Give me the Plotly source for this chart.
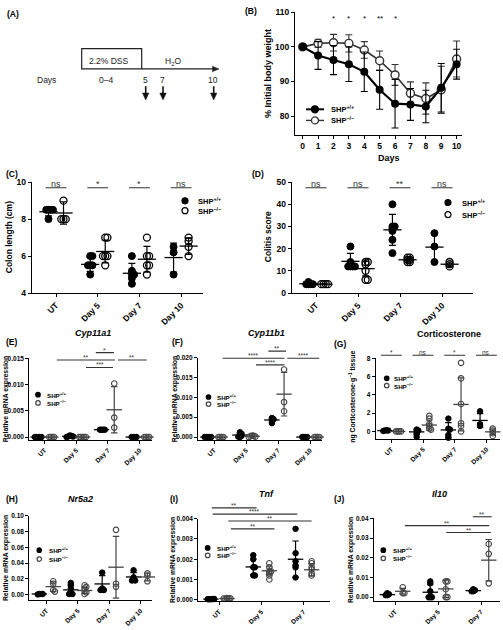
import plotly.graph_objects as go

W, H = 503, 630
FONT = "Liberation Sans"

# ---------------- DATA ----------------
# (B) body weight
B_days = [0, 1, 2, 3, 4, 5, 6, 7, 8, 9, 10]
B_wt_mean = [100, 97.5, 96.2, 95.0, 92.8, 87.6, 83.6, 83.4, 82.8, 88.2, 95.0]
B_wt_sd = [0, 4.0, 4.2, 5.0, 5.7, 5.6, 7.0, 4.6, 4.7, 7.0, 4.3]
B_ko_mean = [100, 101.0, 101.2, 101.0, 99.1, 96.0, 91.9, 86.6, 85.1, 87.6, 96.5]
B_ko_sd = [0, 1.2, 2.4, 2.5, 2.4, 2.8, 3.0, 3.3, 4.5, 6.8, 5.2]
B_sig_days = [2, 3, 4, 5, 6]
B_sig_text = ["*", "*", "*", "**", "*"]
B_sig_level = 108.3

CATS4 = ["UT", "Day 5", "Day 7", "Day 10"]
CATS3 = ["UT", "Day 5", "Day 7"]

# (C) colon length (cm)
C_wt = [[8.5, 8.5, 8.5, 8.5, 8.0], [6.0, 6.0, 5.5, 5.5, 5.5, 5.0], [6.0, 5.2, 5.0, 5.0, 4.8, 4.5], [6.5, 6.2, 5.0]]
C_ko = [[9.0, 8.0, 8.0, 8.0], [7.0, 7.0, 6.0, 6.0, 6.0, 5.5], [7.0, 6.0, 6.0, 5.5, 5.5, 5.0], [7.0, 6.8, 6.5, 6.0]]
C_wt_mean = [8.4, 5.55, 5.07, 5.92]
C_wt_sd = [0.22, 0.38, 0.53, 0.78]
C_ko_mean = [8.33, 6.25, 5.83, 6.54]
C_ko_sd = [0.6, 0.62, 0.7, 0.45]
C_sig = ["ns", "*", "*", "ns"]

# (D) colitis score
D_wt = [[4, 4, 4, 5, 4], [21, 14, 13, 12, 12, 12, 12], [40, 30, 30, 29, 28, 24, 18], [27, 21, 14]]
D_ko = [[4, 4, 4, 4], [14, 14, 13, 10, 6, 6], [16, 15, 15, 14, 14, 16], [14, 13, 12]]
D_wt_mean = [4.2, 14.3, 28.5, 20.7]
D_wt_sd = [0.4, 3.6, 7.0, 6.6]
D_ko_mean = [4.0, 11.0, 15.0, 13.0]
D_ko_sd = [0.2, 3.3, 1.0, 1.0]
D_sig = ["ns", "ns", "**", "ns"]

# (E) Cyp11a1
E_wt = [[0, 0, 0, 0, 0], [0.0003, 0.0002, 0.0001, 0.0001, 0.0], [0.0014, 0.0014, 0.0014, 0.0014], [0, 0, 0, 0]]
E_ko = [[0, 0, 0, 0], [0, 0, 0, 0, 0], [0.0102, 0.0037, 0.0018], [0, 0, 0, 0]]
E_wt_mean = [0, 0.00015, 0.0014, 0]
E_wt_sd = [0, 0.0001, 0.00005, 0]
E_ko_mean = [0, 0, 0.0052, 0]
E_ko_sd = [0, 0, 0.0044, 0]

# (F) Cyp11b1
F_wt = [[0, 0, 0, 0, 0], [0.0012, 0.0008, 0.0005, 0.0003, 0.0001, 0.0], [0.0048, 0.0045, 0.0043, 0.0035], [0, 0, 0, 0]]
F_ko = [[0, 0, 0, 0], [0.0004, 0.0003, 0.0002, 0.0001, 0.0], [0.0170, 0.0088, 0.0065], [0, 0, 0, 0]]
F_wt_mean = [0, 0.0005, 0.0043, 0]
F_wt_sd = [0, 0.0004, 0.0005, 0]
F_ko_mean = [0, 0.0002, 0.0108, 0]
F_ko_sd = [0, 0.00015, 0.0055, 0]

# (G) corticosterone
G_wt = [[0.1, 0.12, 0.05, 0.1], [0.2, 0.1, 0.0, -0.2, -0.6], [1.4, 0.3, 0.2, -0.4, -0.7], [2.2, 0.8, 0.6]]
G_ko = [[0, 0, 0, 0], [1.7, 1.4, 0.8, 0.6, 0.3, 0.2], [7.5, 5.8, 3.0, 0.9, 0.6, 0.0], [0.3, 0.1, -0.2, -0.5]]
G_wt_mean = [0.09, -0.05, 0.16, 1.2]
G_wt_sd = [0.03, 0.3, 0.8, 0.75]
G_ko_mean = [0, 0.7, 2.95, -0.05]
G_ko_sd = [0.02, 0.55, 2.9, 0.3]
G_sig = ["*", "ns", "*", "ns"]

# (H) Nr5a2
H_wt = [[0.001, 0.001, 0.0005, 0.001], [0.015, 0.012, 0.008, 0.003, 0.001, 0.001], [0.028, 0.008, 0.006, 0.006], [0.031, 0.022, 0.019, 0.018, 0.018]]
H_ko = [[0.017, 0.014, 0.006, 0.004], [0.012, 0.010, 0.008, 0.005, 0.003, 0.001], [0.082, 0.014, 0.010], [0.027, 0.024, 0.017]]
H_wt_mean = [0.001, 0.0062, 0.0137, 0.0225]
H_wt_sd = [0.0003, 0.0062, 0.0105, 0.0055]
H_ko_mean = [0.0103, 0.0054, 0.0348, 0.0225]
H_ko_sd = [0.006, 0.004, 0.039, 0.005]

# (I) Tnf
I_wt = [[0.00003, 0.00003, 0.00002, 0.00004, 0.00003], [0.0022, 0.0020, 0.0016, 0.0016, 0.0012, 0.0012], [0.0035, 0.0023, 0.0019, 0.0017, 0.0016, 0.0011]]
I_ko = [[0.00008, 0.00006, 0.00005, 0.00007, 0.00006], [0.0018, 0.0016, 0.0014, 0.0014, 0.0013, 0.0012, 0.0010], [0.0019, 0.0018, 0.0016, 0.0015, 0.0013, 0.0012]]
I_wt_mean = [0.00003, 0.00162, 0.0020]
I_wt_sd = [0.00001, 0.0004, 0.0009]
I_ko_mean = [0.00006, 0.00143, 0.00148]
I_ko_sd = [0.00002, 0.0002, 0.0003]

# (J) Il10
J_wt = [[0.002, 0.0015, 0.001, 0.001], [0.008, 0.007, 0.003, 0.0, 0.0, 0.0], [0.004, 0.0035, 0.003, 0.003]]
J_ko = [[0.005, 0.002, 0.002], [0.008, 0.008, 0.004, 0.0, 0.0], [0.027, 0.022, 0.007]]
J_wt_mean = [0.0013, 0.0025, 0.0033]
J_wt_sd = [0.0004, 0.0038, 0.0004]
J_ko_mean = [0.003, 0.0042, 0.0188]
J_ko_sd = [0.0015, 0.0044, 0.0105]

WT_LABEL = "SHP<sup>+/+</sup>"
KO_LABEL = "SHP<sup>\u2212/\u2212</sup>"

# ---------------- LAYOUT HELPERS ----------------
def fx(px):
    return px / W

def fy(py):
    return 1 - py / H

fig = go.Figure()
annotations = []
shapes = []


def txt(x, y, text, size, bold=False, xanchor="center", yanchor="middle", angle=0, color="black"):
    annotations.append(dict(
        x=fx(x), y=fy(y), xref="paper", yref="paper", text=text, showarrow=False,
        xanchor=xanchor, yanchor=yanchor, textangle=angle,
        font=dict(family=FONT, size=size, color=color, weight="bold" if bold else "normal")))


def axis_common(fs):
    return dict(showline=True, linecolor="black", linewidth=1.2, ticks="outside", ticklen=3,
                tickwidth=1.2, tickcolor="black", showgrid=False, zeroline=False, fixedrange=True,
                tickfont=dict(family=FONT, size=fs, color="black", weight="bold"))


def set_axes(n, xpx, xr, ypx, yr, yt, fmt, fs, xticks=None, xlabels=None, angle=-45):
    xk = "xaxis" if n == 1 else f"xaxis{n}"
    yk = "yaxis" if n == 1 else f"yaxis{n}"
    xa = axis_common(fs)
    xa.update(domain=[fx(xpx[0]), fx(xpx[1])], range=list(xr), anchor="y" if n == 1 else f"y{n}",
              tickmode="array", tickvals=xticks, ticktext=xlabels, tickangle=angle)
    ya = axis_common(fs)
    ya.update(domain=[fy(ypx[0]), fy(ypx[1])], range=list(yr), anchor="x" if n == 1 else f"x{n}",
              tickmode="array", tickvals=yt, tickformat=fmt)
    fig.update_layout(**{xk: xa, yk: ya})


def legend_sym(x, y, d, filled, color="black", lw=1.2):
    shapes.append(dict(type="circle", xref="paper", yref="paper", xsizemode="pixel", ysizemode="pixel",
                       xanchor=fx(x), yanchor=fy(y), x0=-d / 2, x1=d / 2, y0=-d / 2, y1=d / 2,
                       fillcolor=color if filled else "rgba(0,0,0,0)", line=dict(color=color, width=lw)))


def swarm(vals, center, ppx, ppy, step):
    placed, out = [], []
    order = [0] + [s * k for k in range(1, 14) for s in (1, -1)]
    for v in vals:
        xo = 0
        for k in order:
            xo = k * step
            if all((xo - a) ** 2 + ((v - b) * ppy) ** 2 >= (step * 0.99) ** 2 for a, b in placed):
                break
        placed.append((xo, v))
        out.append(center + xo / ppx)
    return out


def column_panel(n, cats, wt, ko, wt_m, wt_s, ko_m, ko_s, sp):
    xax = "x" if n == 1 else f"x{n}"
    yax = "y" if n == 1 else f"y{n}"
    xpx, c0, spacing = sp["xpx"], sp["c0"], sp["sp"]
    xr = ((xpx[0] - c0) / spacing, (xpx[1] - c0) / spacing)
    ypx, yr = sp["ypx"], sp["yr"]
    ppx = spacing
    ppy = (ypx[0] - ypx[1]) / (yr[1] - yr[0])
    set_axes(n, xpx, xr, ypx, yr, sp["yt"], sp["fmt"], sp["fs"], list(range(len(cats))), cats)
    off = sp["off"]
    ms = sp["ms"]
    kocol = sp.get("kocol", "black")
    for g, (vals, means, sds, sign, filled) in enumerate([(wt, wt_m, wt_s, -1, True), (ko, ko_m, ko_s, 1, False)]):
        col = "black" if filled else kocol
        xs, ys = [], []
        for i, vv in enumerate(vals):
            xs += swarm(vv, i + sign * off, ppx, ppy, ms * sp.get("spread", 0.32))
            ys += vv
        fig.add_trace(go.Scatter(
            x=xs, y=ys, xaxis=xax, yaxis=yax, mode="markers", showlegend=False, cliponaxis=False,
            marker=dict(symbol="circle" if filled else "circle-open", size=ms, color=col,
                        line=dict(color=col, width=1.0 if filled else sp.get("olw", 1.3)))))
        fig.add_trace(go.Scatter(
            x=[i + sign * off for i in range(len(cats))], y=means, xaxis=xax, yaxis=yax,
            mode="markers", showlegend=False, cliponaxis=False,
            marker=dict(symbol="line-ew", size=sp["meanw"], color=col, line=dict(color=col, width=1.3)),
            error_y=dict(type="data", array=sds, visible=True, width=sp["capw"], thickness=1.2, color=col)))
    # legend
    lx, ly1, ly2, tx, lfs = sp["leg"]
    legend_sym(lx, ly1, ms - 1, True)
    legend_sym(lx, ly2, ms - 1, False, color=kocol)
    txt(tx, ly1, WT_LABEL, lfs, bold=True, xanchor="left")
    txt(tx, ly2, KO_LABEL, lfs, bold=True, xanchor="left")
    # significance brackets (x in category units, level in y-domain fraction)
    for (x0, x1, lev, lab) in sp["br"]:
        shapes.append(dict(type="line", xref=xax, yref=f"{yax} domain", x0=x0, x1=x1, y0=lev, y1=lev,
                           line=dict(color="#333", width=1.1)))
        annotations.append(dict(x=(x0 + x1) / 2, y=lev, xref=xax, yref=f"{yax} domain", text=lab,
                                showarrow=False, yanchor="bottom", yshift=-3,
                                font=dict(family=FONT, size=sp["brfs"], color="#333")))


# ---------------- PANEL A (schematic) ----------------
txt(5, 9, "(A)", 8.5, bold=True, xanchor="left")
shapes.append(dict(type="rect", xref="paper", yref="paper", x0=fx(81.7), x1=fx(141.7), y0=fy(65), y1=fy(44.3),
                   line=dict(color="#222", width=1.2)))
shapes.append(dict(type="line", xref="paper", yref="paper", x0=fx(141.7), x1=fx(214), y0=fy(65), y1=fy(65),
                   line=dict(color="#222", width=1.2)))
shapes.append(dict(type="path", xref="paper", yref="paper",
                   path=f"M {fx(219)} {fy(65)} L {fx(212.5)} {fy(62.3)} L {fx(212.5)} {fy(67.7)} Z",
                   fillcolor="#222", line=dict(color="#222", width=0.5)))
for ax_px in [145.7, 163.0, 213.7]:
    shapes.append(dict(type="line", xref="paper", yref="paper", x0=fx(ax_px), x1=fx(ax_px),
                       y0=fy(82.5), y1=fy(91), line=dict(color="#111", width=1.6)))
    shapes.append(dict(type="path", xref="paper", yref="paper",
                       path=f"M {fx(ax_px)} {fy(96.5)} L {fx(ax_px - 3.2)} {fy(89.5)} L {fx(ax_px + 3.2)} {fy(89.5)} Z",
                       fillcolor="#111", line=dict(color="#111", width=0.5)))
txt(109, 56.5, "2.2% DSS", 8.5, color="#222")
txt(172.7, 57, "H<sub>2</sub>O", 8.5, color="#222")
txt(46.7, 76, "Days", 8.5, color="#222")
txt(106, 76, "0\u20134", 8.5, color="#222")
txt(145.7, 76, "5", 8.5, color="#222")
txt(162.3, 76, "7", 8.5, color="#222")
txt(213.3, 76, "10", 8.5, color="#222")

# ---------------- PANEL B ----------------
txt(243, 6, "(B)", 8.5, bold=True, xanchor="left")
set_axes(1, (295, 462), (-0.5, 10.35), (132, 7.3), (74.6, 110), [80, 90, 100, 110], "", 8.5,
         B_days, [str(d) for d in B_days], angle=0)
fig.add_trace(go.Scatter(x=B_days, y=B_ko_mean, mode="lines+markers", showlegend=False, cliponaxis=False,
                         line=dict(color="#333", width=1.6),
                         marker=dict(symbol="circle", size=8, color="white", line=dict(color="#333", width=1.4)),
                         error_y=dict(type="data", array=B_ko_sd, width=3.5, thickness=1.1, color="#333")))
fig.add_trace(go.Scatter(x=B_days, y=B_wt_mean, mode="lines+markers", showlegend=False, cliponaxis=False,
                         line=dict(color="black", width=2.2),
                         marker=dict(symbol="circle", size=8, color="black"),
                         error_y=dict(type="data", array=B_wt_sd, width=3.5, thickness=1.1, color="black")))
for d, s in zip(B_sig_days, B_sig_text):
    annotations.append(dict(x=d, y=B_sig_level, xref="x", yref="y", text=s, showarrow=False,
                            font=dict(family=FONT, size=8, color="black")))
txt(389, 155.5, "Days", 9, bold=True)
txt(268, 70, "% Initial body weight", 9, bold=True, angle=-90)
shapes.append(dict(type="line", xref="paper", yref="paper", x0=fx(306), x1=fx(324), y0=fy(106), y1=fy(106),
                   line=dict(color="black", width=2)))
legend_sym(315, 106, 7, True)
shapes.append(dict(type="line", xref="paper", yref="paper", x0=fx(306), x1=fx(324), y0=fy(117.3), y1=fy(117.3),
                   line=dict(color="#333", width=1.4)))
shapes.append(dict(type="circle", xref="paper", yref="paper", xsizemode="pixel", ysizemode="pixel",
                   xanchor=fx(315), yanchor=fy(117.3), x0=-3.5, x1=3.5, y0=-3.5, y1=3.5,
                   fillcolor="white", line=dict(color="#333", width=1.3)))
txt(329, 106, WT_LABEL, 7.5, bold=True, xanchor="left")
txt(329, 117.3, KO_LABEL, 7.5, bold=True, xanchor="left")

# ---------------- PANELS C-J ----------------
bigbr = lambda lab, lev, hw: [(i - hw, i + hw, lev, l) for i, l in enumerate(lab)]

SPEC_C = dict(xpx=(31.7, 203), c0=56, sp=41.7, ypx=(292.7, 180), yr=(4, 10), yt=[4, 6, 8, 10], fmt="",
              fs=8.5, ms=7, off=0.18, meanw=13, capw=3.5, leg=(185, 199, 209, 196, 7.5),
              br=bigbr(C_sig, 0.949, 0.25), brfs=9)
SPEC_D = dict(xpx=(291.7, 472.7), c0=316, sp=42, ypx=(292.7, 180), yr=(0, 50), yt=[0, 10, 20, 30, 40, 50],
              fmt="", fs=8.5, ms=7, off=0.18, meanw=13, capw=3.5, leg=(448, 200.7, 213, 460, 7.5),
              br=bigbr(D_sig, 0.949, 0.25), brfs=9)
small = dict(fs=6.5, ms=5.5, meanw=11, capw=3.2, brfs=6.5, kocol="#444", olw=1.1, spread=0.3)
SPEC_E = dict(small, xpx=(29.3, 151.7), c0=44.5, sp=31.7, ypx=(442, 359), yr=(-0.00056, 0.015),
              yt=[0, 0.005, 0.010, 0.015], fmt=".3f", off=0.2, leg=(38, 396, 404.3, 45, 6.2),
              br=[(0.39, 2.22, 0.98, "**"), (1.62, 2.19, 1.069, "*"), (1.31, 2.16, 0.888, "***"),
                  (2.32, 3.22, 0.98, "**")])
SPEC_F = dict(small, xpx=(198, 321.7), c0=214, sp=32, ypx=(442, 358.3), yr=(-0.00074, 0.020),
              yt=[0, 0.005, 0.010, 0.015, 0.020], fmt=".3f", off=0.19, leg=(208.5, 398.3, 405.5, 215, 6.2),
              br=[(0.27, 2.2, 0.992, "****"), (1.7, 2.25, 1.079, "**"), (1.31, 2.2, 0.912, "****"),
                  (2.29, 3.29, 0.992, "****")])
SPEC_G = dict(small, xpx=(375.7, 500), c0=391.3, sp=31.7, ypx=(441, 359), yr=(-0.83, 8),
              yt=[0, 2, 4, 6, 8], fmt="", off=0.2, leg=(386.7, 379.3, 386.7, 392, 6.2),
              br=bigbr(G_sig, 1.037, 0.33))
SPEC_H = dict(small, xpx=(29.3, 151.7), c0=46.3, sp=31.4, ypx=(605, 518.8), yr=(-0.0071, 0.10),
              yt=[0, 0.02, 0.04, 0.06, 0.08, 0.10], fmt=".2f", off=0.22, leg=(39.3, 554, 563, 47, 6.2), br=[])
SPEC_I = dict(small, xpx=(198.3, 330), c0=219, sp=42.3, ypx=(606, 522), yr=(-0.00008, 0.004),
              yt=[0, 0.001, 0.002, 0.003, 0.004], fmt=".3f", off=0.19, leg=(207.7, 551.7, 559.3, 215, 6.2),
              br=[(-0.17, 0.89, 1.131, "**"), (-0.15, 1.85, 1.056, "****"), (0.22, 2.19, 0.973, "**"),
                  (0.28, 1.31, 0.877, "**")])
SPEC_J = dict(small, xpx=(374, 500), c0=395, sp=43, ypx=(606, 521.7), yr=(-0.00215, 0.04),
              yt=[0, 0.01, 0.02, 0.03, 0.04], fmt=".2f", off=0.18, leg=(383.3, 554, 562.3, 391, 6.2),
              br=[(1.81, 2.25, 1.02, "**"), (0.23, 2.19, 0.913, "**"), (1.19, 2.23, 0.83, "**")])

column_panel(2, CATS4, C_wt, C_ko, C_wt_mean, C_wt_sd, C_ko_mean, C_ko_sd, SPEC_C)
column_panel(3, CATS4, D_wt, D_ko, D_wt_mean, D_wt_sd, D_ko_mean, D_ko_sd, SPEC_D)
column_panel(4, CATS4, E_wt, E_ko, E_wt_mean, E_wt_sd, E_ko_mean, E_ko_sd, SPEC_E)
column_panel(5, CATS4, F_wt, F_ko, F_wt_mean, F_wt_sd, F_ko_mean, F_ko_sd, SPEC_F)
column_panel(6, CATS4, G_wt, G_ko, G_wt_mean, G_wt_sd, G_ko_mean, G_ko_sd, SPEC_G)
column_panel(7, CATS4, H_wt, H_ko, H_wt_mean, H_wt_sd, H_ko_mean, H_ko_sd, SPEC_H)
column_panel(8, CATS3, I_wt, I_ko, I_wt_mean, I_wt_sd, I_ko_mean, I_ko_sd, SPEC_I)
column_panel(9, CATS3, J_wt, J_ko, J_wt_mean, J_wt_sd, J_ko_mean, J_ko_sd, SPEC_J)

# panel letters, titles, axis titles
txt(4, 172, "(C)", 8.5, bold=True, xanchor="left")
txt(250, 172, "(D)", 8.5, bold=True, xanchor="left")
txt(4, 342, "(E)", 8.5, bold=True, xanchor="left")
txt(170, 342, "(F)", 8.5, bold=True, xanchor="left")
txt(332, 344, "(G)", 8.5, bold=True, xanchor="left")
txt(4, 502, "(H)", 8.5, bold=True, xanchor="left")
txt(168, 502, "(I)", 8.5, bold=True, xanchor="left")
txt(332, 502, "(J)", 8.5, bold=True, xanchor="left")

txt(93, 333, "<i>Cyp11a1</i>", 9, bold=True)
txt(266, 333, "<i>Cyp11b1</i>", 9, bold=True)
txt(449, 334, "Corticosterone", 9, bold=True)
txt(80, 501.5, "<i>Nr5a2</i>", 9, bold=True)
txt(266.7, 497.3, "<i>Tnf</i>", 9, bold=True)
txt(439, 497.3, "<i>Il10</i>", 9, bold=True)

txt(9, 236, "Colon length (cm)", 8.5, bold=True, angle=-90)
txt(268, 236, "Colitis score", 8.5, bold=True, angle=-90)
txt(6, 400.5, "Relative mRNA expression", 6.8, bold=True, angle=-90)
txt(175, 400.5, "Relative mRNA expression", 6.8, bold=True, angle=-90)
txt(353, 398, "ng Corticosterone\u00b7g<sup>\u22121</sup> tissue", 6.8, bold=True, angle=-90)
txt(6, 562, "Relative mRNA expression", 6.8, bold=True, angle=-90)
txt(173, 564, "Relative mRNA expression", 6.8, bold=True, angle=-90)
txt(351, 564, "Relative mRNA expression", 6.8, bold=True, angle=-90)

fig.update_layout(width=W, height=H, autosize=False, margin=dict(l=0, r=0, t=0, b=0),
                  paper_bgcolor="white", plot_bgcolor="white", showlegend=False,
                  annotations=annotations, shapes=shapes,
                  font=dict(family=FONT, color="black"))
fig.write_html("out.html", config={"displayModeBar": False},
               post_script="document.body.style.margin='0px';document.body.style.padding='0px';")
